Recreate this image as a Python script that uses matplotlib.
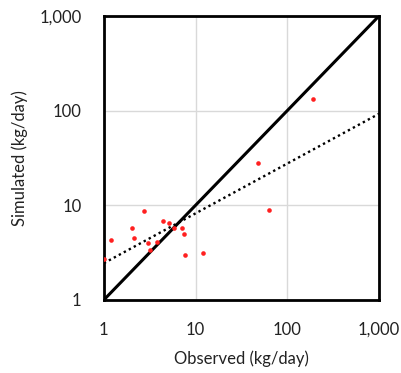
import numpy as np
import matplotlib
matplotlib.use('Agg')
import matplotlib.pyplot as plt
from matplotlib.ticker import FuncFormatter, FixedLocator

# observed vs simulated loads (kg/day)
observed = [1.0, 1.21, 2.75, 2.04, 2.14, 3.05, 3.15, 3.79, 4.41, 5.17,
            5.86, 7.16, 7.53, 7.6, 12.1, 48.4, 63.8, 190.0]
simulated = [2.69, 4.27, 8.65, 5.71, 4.55, 4.03, 3.37, 4.13, 6.83, 6.46,
             5.8, 5.71, 4.94, 2.97, 3.13, 28.2, 8.99, 134.0]
ticks = [1, 10, 100, 1000]

plt.rcParams['font.family'] = ['Lato', 'DejaVu Sans']

fig = plt.figure(figsize=(4.01, 3.73), dpi=100)
ax = fig.add_axes([0.259, 0.196, 0.686, 0.761])

ax.set_xscale('log')
ax.set_yscale('log')
ax.set_xlim(1, 1000)
ax.set_ylim(1, 1000)

ax.grid(True, which='major', color='#d9d9d9', lw=1)
ax.set_axisbelow(True)

# 1:1 line
ax.plot([1, 1000], [1, 1000], color='black', lw=2.2, zorder=3)

# power trendline (least squares in log space)
b, a = np.polyfit(np.log10(observed), np.log10(simulated), 1)
xt = np.array([1, 1000])
ax.plot(xt, 10 ** a * xt ** b, color='black', lw=1.7,
        linestyle=(0, (1, 1.4)), zorder=3)

ax.scatter(observed, simulated, s=11, color='#ff2020', zorder=4, linewidths=0)

ax.xaxis.set_major_locator(FixedLocator(ticks))
ax.yaxis.set_major_locator(FixedLocator(ticks))
ax.xaxis.set_minor_locator(FixedLocator([]))
ax.yaxis.set_minor_locator(FixedLocator([]))
fmt = FuncFormatter(lambda v, p: '{:,.0f}'.format(v))
ax.xaxis.set_major_formatter(fmt)
ax.yaxis.set_major_formatter(fmt)
ax.tick_params(axis='both', length=0, labelsize=12, colors='#222222')
ax.tick_params(axis='x', pad=16)
ax.tick_params(axis='y', pad=16)

for s in ax.spines.values():
    s.set_linewidth(2)
    s.set_color('black')

ax.set_xlabel('Observed (kg/day)', fontsize=12, color='#222222', labelpad=9)
ax.set_ylabel('Simulated (kg/day)', fontsize=12, color='#222222', labelpad=8)

fig.savefig('out.png', dpi=100)
